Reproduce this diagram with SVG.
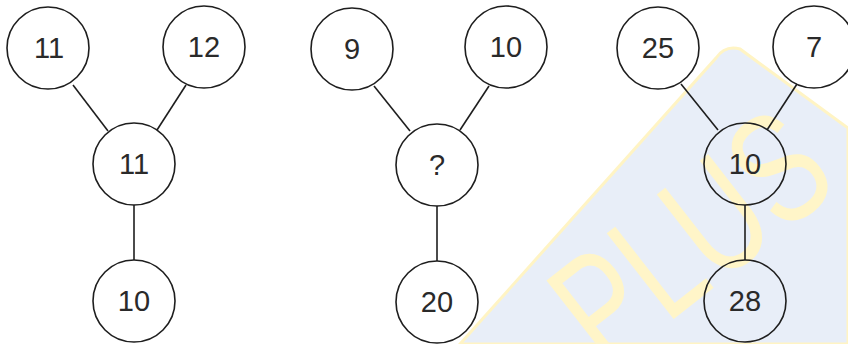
<svg xmlns="http://www.w3.org/2000/svg" width="848" height="344" viewBox="0 0 848 344">
<style>
.n circle{fill:none;stroke:#1e1e1e;stroke-width:1.6}
.n text{font-family:"Liberation Sans",Arial,sans-serif;font-size:29px;fill:#2a2a2a;text-anchor:middle}
#edges line{stroke:#1e1e1e;stroke-width:1.6}
</style>
<rect width="848" height="344" fill="#ffffff"/>
<g id="watermark">
<path d="M460,344 L716,58 Q725,45 740,49 L848,128 L848,344 Z" fill="#e8eef8" stroke="#fff4c4" stroke-width="3"/>
<text x="0" y="0" transform="translate(606,372) rotate(-38)" font-family="Liberation Sans,Arial,sans-serif" font-size="158" textLength="300" lengthAdjust="spacingAndGlyphs" fill="#fff5c8">PLUS</text>
</g>
<g id="edges">
<line x1="73" y1="85" x2="108" y2="131"/>
<line x1="186" y1="85" x2="157" y2="130"/>
<line x1="134" y1="205" x2="134" y2="260"/>
<line x1="374" y1="86" x2="410" y2="131"/>
<line x1="489" y1="86" x2="460" y2="130"/>
<line x1="437" y1="206" x2="437" y2="261"/>
<line x1="681" y1="84" x2="718" y2="130"/>
<line x1="797" y1="84" x2="767" y2="130"/>
<line x1="745" y1="205" x2="745" y2="260"/>
</g>
<g id="t1a" class="n"><circle cx="48" cy="48" r="41"/><text x="49" y="58">11</text></g>
<g id="t1b" class="n"><circle cx="204" cy="47" r="41"/><text x="204" y="57">12</text></g>
<g id="t1c" class="n"><circle cx="134" cy="164" r="41"/><text x="134" y="174">11</text></g>
<g id="t1d" class="n"><circle cx="134" cy="301" r="41"/><text x="134" y="311">10</text></g>
<g id="t2a" class="n"><circle cx="352" cy="49" r="41"/><text x="352" y="59">9</text></g>
<g id="t2b" class="n"><circle cx="506" cy="47" r="41"/><text x="506" y="57">10</text></g>
<g id="t2c" class="n"><circle cx="437" cy="165" r="41"/><text x="437" y="175">?</text></g>
<g id="t2d" class="n"><circle cx="437" cy="302" r="41"/><text x="437" y="312">20</text></g>
<g id="t3a" class="n"><circle cx="658" cy="48" r="41"/><text x="658" y="58">25</text></g>
<g id="t3b" class="n"><circle cx="814" cy="47" r="41"/><text x="814" y="57">7</text></g>
<g id="t3c" class="n"><circle cx="745" cy="164" r="41"/><text x="745" y="174">10</text></g>
<g id="t3d" class="n"><circle cx="745" cy="301" r="41"/><text x="745" y="311">28</text></g>
</svg>
